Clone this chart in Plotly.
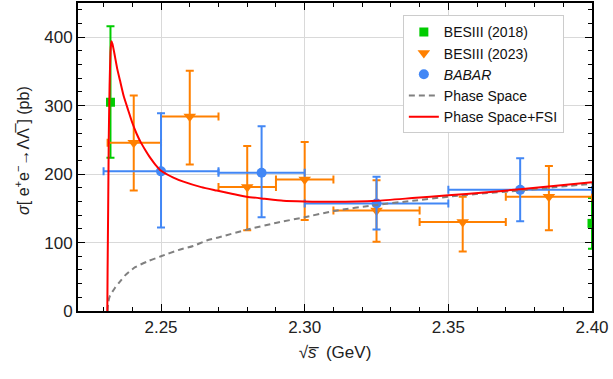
import plotly.graph_objects as go

# ---------------- data ----------------
# BESIII (2018)
b18_x = [2.2324, 2.4000]
b18_y = [305, 128]
b18_up = [111, 37]
b18_dn = [81, 37]

# BESIII (2023)
b23_x = [2.2405, 2.2600, 2.2800, 2.3000, 2.3250, 2.3550, 2.3850]
b23_y = [246, 284, 181, 192, 147, 130, 167]
b23_up = [69, 67, 60, 55, 44, 37, 45]
b23_dn = [70, 70, 63, 59, 46, 43, 49]
b23_xlo = [2.2314, 2.2500, 2.2700, 2.2900, 2.3100, 2.3400, 2.3700]
b23_xhi = [2.2500, 2.2700, 2.2900, 2.3100, 2.3400, 2.3700, 2.4000]

# BABAR
bab_x = [2.2500, 2.2850, 2.3250, 2.3750]
bab_y = [204, 202, 157, 177]
bab_up = [85, 68, 39, 46]
bab_dn = [82, 65, 38, 46]
bab_xlo = [2.2300, 2.2700, 2.3000, 2.3500]
bab_xhi = [2.2700, 2.3000, 2.3500, 2.4000]

# Phase space curve
ps_x = [2.2314, 2.2316, 2.2322, 2.2340, 2.2357, 2.2375, 2.2410, 2.2456, 2.2500,
        2.2560, 2.2612, 2.2659, 2.2705, 2.2800, 2.2903, 2.3000, 2.3100, 2.3250,
        2.3375, 2.3500, 2.3625, 2.3750, 2.3875, 2.4000]
ps_y = [0, 12, 22, 34, 43, 52, 64, 73, 80, 89, 95, 103, 108, 119, 129, 137,
        146, 155, 161, 167, 172, 176, 181, 186]

# Phase space + FSI curve
fsi_x = [2.2313, 2.2314, 2.2316, 2.2318, 2.2321, 2.2324, 2.2327, 2.2331, 2.2336,
         2.2340, 2.2348, 2.2357, 2.2370, 2.2386, 2.2400, 2.2415, 2.2430, 2.2444,
         2.2462, 2.2480, 2.2500, 2.2543, 2.2578, 2.2640, 2.2694, 2.2750, 2.2798,
         2.2860, 2.2925, 2.3000, 2.3100, 2.3250, 2.3375, 2.3500, 2.3625, 2.3750,
         2.3875, 2.4000]
fsi_y = [0, 60, 150, 250, 330, 378, 394, 390, 380, 371, 353, 337, 314, 293,
         275, 259, 246, 236, 224, 214, 205, 195, 189, 181, 176, 171, 167, 164,
         161, 160, 159.5, 161, 165, 169, 173, 178, 183, 188]

x_range = [2.2211, 2.40]
y_range = [0, 450]
x_ticks = [2.25, 2.30, 2.35, 2.40]
x_ticktext = ["2.25", "2.30", "2.35", "2.40"]
y_ticks = [0, 100, 200, 300, 400]

y_title = "<i>σ</i>[ e<sup>+</sup>e<sup>−</sup>→ΛΛ\u0305 ] (pb)"
x_title = "√<i>s\u0305</i>  (GeV)"

GREEN = "#00CC00"
ORANGE = "#FF8000"
BLUE = "#4287F5"
RED = "#FF0000"
GRAY = "#808080"
FONT = "Liberation Sans, Arial, sans-serif"

def diff(a, b):
    return [round(x - y, 6) for x, y in zip(a, b)]

fig = go.Figure()

fig.add_trace(go.Scatter(
    x=b18_x, y=b18_y, mode="markers", name="BESIII (2018)", legendrank=1,
    marker=dict(symbol="square", size=9, color=GREEN),
    error_y=dict(type="data", symmetric=False, array=b18_up, arrayminus=b18_dn,
                 color=GREEN, thickness=2, width=4),
))

fig.add_trace(go.Scatter(
    x=b23_x, y=b23_y, mode="markers", name="BESIII (2023)", legendrank=2,
    marker=dict(symbol="triangle-down", size=11, color=ORANGE),
    error_y=dict(type="data", symmetric=False, array=b23_up, arrayminus=b23_dn,
                 color=ORANGE, thickness=2, width=4),
    error_x=dict(type="data", symmetric=False, array=diff(b23_xhi, b23_x),
                 arrayminus=diff(b23_x, b23_xlo), color=ORANGE, thickness=2, width=4),
))

fig.add_trace(go.Scatter(
    x=bab_x, y=bab_y, mode="markers", name="<i>BABAR</i>", legendrank=3,
    marker=dict(symbol="circle", size=10, color=BLUE),
    error_y=dict(type="data", symmetric=False, array=bab_up, arrayminus=bab_dn,
                 color=BLUE, thickness=2, width=4),
    error_x=dict(type="data", symmetric=False, array=diff(bab_xhi, bab_x),
                 arrayminus=diff(bab_x, bab_xlo), color=BLUE, thickness=2, width=4),
))

fig.add_trace(go.Scatter(
    x=ps_x, y=ps_y, mode="lines", name="Phase Space", legendrank=4,
    line=dict(color=GRAY, width=2, dash="6px,4px", shape="spline", smoothing=0.6),
))

fig.add_trace(go.Scatter(
    x=fsi_x, y=fsi_y, mode="lines", name="Phase Space+FSI", legendrank=5,
    line=dict(color=RED, width=2, shape="spline", smoothing=0.5),
))

axis_common = dict(
    showline=True, linecolor="black", linewidth=2, mirror="ticks",
    ticks="inside", ticklen=7, tickwidth=1, tickcolor="black",
    showgrid=True, gridcolor="#D9D9D9", gridwidth=1, zeroline=False,
    automargin=False,
    tickfont=dict(family=FONT, size=17, color="#222222"),
)

fig.update_xaxes(
    range=x_range, tickvals=x_ticks, ticktext=x_ticktext,
    minor=dict(dtick=0.01, tick0=2.25, ticks="inside", ticklen=4, tickcolor="black", showgrid=False),
    title=dict(text=x_title, standoff=10,
               font=dict(family=FONT, size=17, color="#222222")),
    **axis_common,
)
fig.update_yaxes(
    range=y_range, tickvals=y_ticks,
    minor=dict(dtick=20, tick0=0, ticks="inside", ticklen=4, tickcolor="black", showgrid=False),
    **axis_common,
)

fig.add_annotation(
    text=y_title, xref="paper", yref="paper", x=-0.109, y=0.523,
    xanchor="center", yanchor="middle", textangle=-90, showarrow=False,
    font=dict(family=FONT, size=16, color="#222222"),
)

fig.update_layout(
    width=613, height=379,
    margin=dict(l=78, r=21, t=3, b=68),
    paper_bgcolor="white", plot_bgcolor="white",
    showlegend=True,
    legend=dict(x=0.632, y=0.96, xanchor="left", yanchor="top",
                bgcolor="white", bordercolor="#CCCCCC", borderwidth=1,
                font=dict(family=FONT, size=14, color="#111111"),
                tracegroupgap=0, itemwidth=30),
)

fig.write_html("out.html", config={"displayModeBar": False},
               post_script="document.body.style.margin='0';document.body.style.overflow='hidden';")
